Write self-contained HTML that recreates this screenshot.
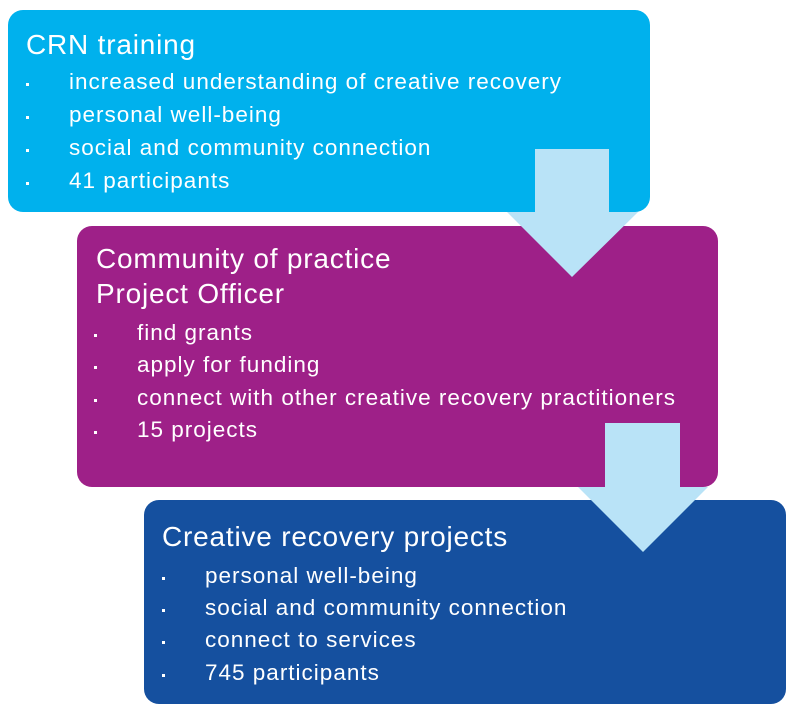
<!DOCTYPE html>
<html><head><meta charset="utf-8"><style>
body{margin:0;width:796px;height:715px;background:#fff;position:relative;overflow:hidden;font-family:"Liberation Sans",sans-serif;color:#fff}
.box{position:absolute;border-radius:15px}
.t{position:absolute;white-space:nowrap;line-height:1}
.h{font-size:28px;letter-spacing:0.8px}
.b{font-size:22.5px;letter-spacing:1px}
.d{position:absolute;width:3px;height:3px;background:#fff}
</style></head><body>
<div class="box" style="left:8px;top:10px;width:642px;height:202px;background:#00b1ed"></div>
<div class="box" style="left:77px;top:226px;width:641px;height:261px;background:#9e2088"></div>
<div class="box" style="left:144px;top:500px;width:642px;height:204px;background:#15509f"></div>
<svg width="796" height="715" style="position:absolute;left:0;top:0">
<polygon points="535,149 609,149 609,212 638,212 572,277 507,212 535,212" fill="#b9e3f7"/>
<polygon points="605,423 680,423 680,487 708,487 643,552 578,487 605,487" fill="#b9e3f7"/>
</svg>
<div class="t h" style="left:26px;top:31px">CRN training</div>
<div class="d" style="left:26px;top:83px"></div><div class="t b" style="left:69px;top:71px">increased understanding of creative recovery</div>
<div class="d" style="left:26px;top:116px"></div><div class="t b" style="left:69px;top:104px">personal well-being</div>
<div class="d" style="left:26px;top:149px"></div><div class="t b" style="left:69px;top:137px">social and community connection</div>
<div class="d" style="left:26px;top:182px"></div><div class="t b" style="left:69px;top:170px">41 participants</div>

<div class="t h" style="left:96px;top:245px">Community of practice</div>
<div class="t h" style="left:96px;top:280px">Project Officer</div>
<div class="d" style="left:94px;top:334px"></div><div class="t b" style="left:137px;top:322px">find grants</div>
<div class="d" style="left:94px;top:366px"></div><div class="t b" style="left:137px;top:354px">apply for funding</div>
<div class="d" style="left:94px;top:399px"></div><div class="t b" style="left:137px;top:387px">connect with other creative recovery practitioners</div>
<div class="d" style="left:94px;top:431px"></div><div class="t b" style="left:137px;top:419px">15 projects</div>

<div class="t h" style="left:162px;top:523px">Creative recovery projects</div>
<div class="d" style="left:162px;top:577px"></div><div class="t b" style="left:205px;top:565px">personal well-being</div>
<div class="d" style="left:162px;top:609px"></div><div class="t b" style="left:205px;top:597px">social and community connection</div>
<div class="d" style="left:162px;top:641px"></div><div class="t b" style="left:205px;top:629px">connect to services</div>
<div class="d" style="left:162px;top:674px"></div><div class="t b" style="left:205px;top:662px">745 participants</div>
</body></html>
